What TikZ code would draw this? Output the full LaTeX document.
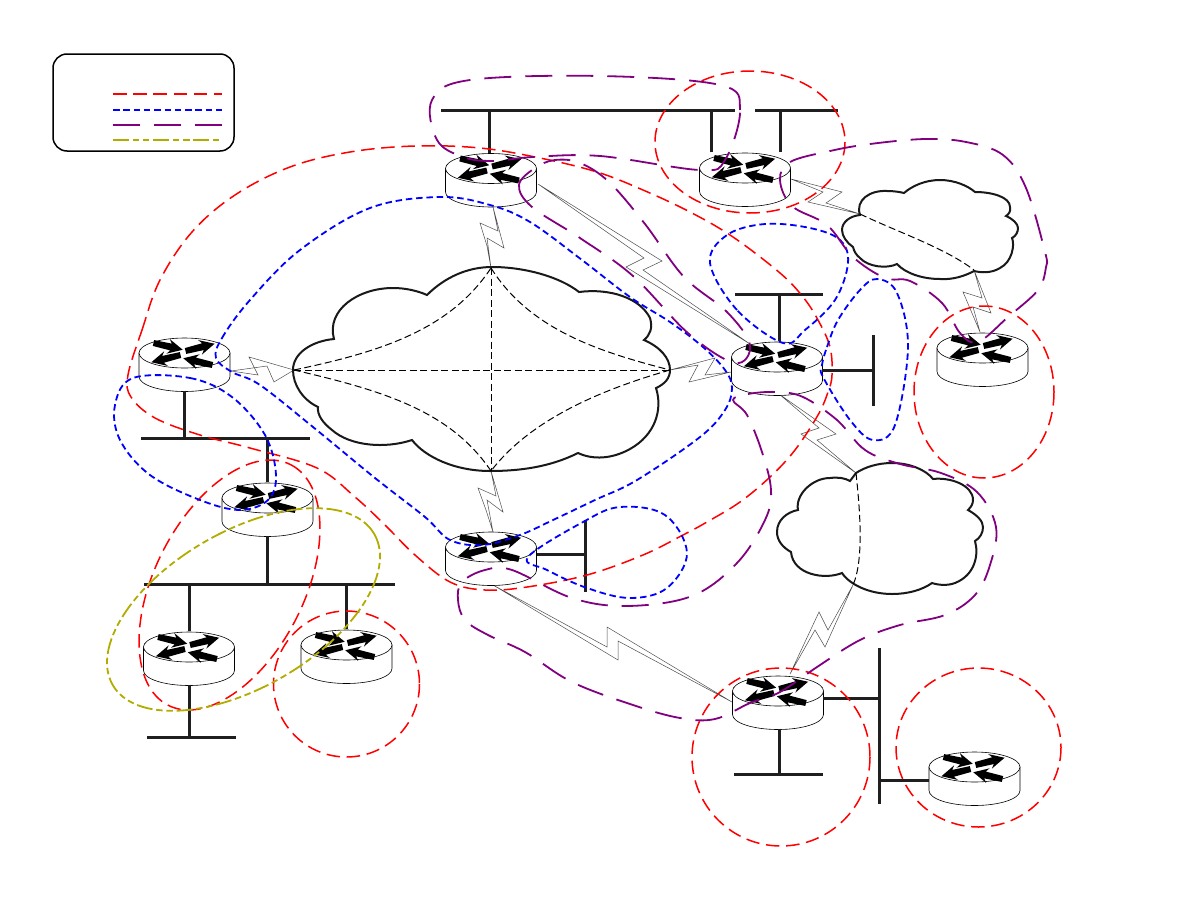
\documentclass[tikz,border=0pt]{standalone}
\definecolor{cred}{RGB}{255,0,0}
\definecolor{cblue}{RGB}{0,0,255}
\definecolor{cpurple}{RGB}{128,0,128}
\definecolor{colive}{RGB}{178,172,0}
\tikzset{
  x=1pt,y=-1pt,
  busline/.style={line width=3pt,color=black!88},
  cloudline/.style={line width=2pt,color=black!90,line join=miter},
  meshline/.style={line width=1pt,dash pattern=on 7pt off 3.5pt},
  zapline/.style={line width=0.5pt,color=black!70,line join=miter},
  redline/.style={line width=1.5pt,color=cred,dash pattern=on 13.5pt off 6.7pt},
  blueline/.style={line width=1.8pt,color=cblue,dash pattern=on 6.5pt off 3.8pt},
  purpleline/.style={line width=1.8pt,color=cpurple,dash pattern=on 27pt off 14pt},
  oliveline/.style={line width=1.8pt,color=colive,dash pattern=on 16pt off 3.7pt on 6.5pt off 3.7pt on 6.5pt off 3.7pt},
  routerbox/.style={inner sep=0pt,minimum width=91pt,minimum height=53pt,rectangle},
}
\newcommand{\routertip}[3]{%
  \fill[shift={(#1,#2)},rotate=#3] (0,3) -- (18,3.5) -- (15,7.5) -- (30,0) -- (15,-7.5) -- (18,-3.5) -- (0,-3) -- cycle;}
\newcommand{\routerat}[3]{%
  \node[routerbox] (#1) at (#2,#3+11) {};
  \begin{scope}[shift={(#2,#3)}]
    \draw[fill=white,line width=0.6pt] (-45.5,0) -- (-45.5,23.5) arc[start angle=180,end angle=360,x radius=45.5,y radius=-15] -- (45.5,0) -- cycle;
    \draw[fill=white,line width=0.6pt] (0,0) ellipse[x radius=45.5,y radius=15];
    \routertip{-31}{-10}{-13}
    \routertip{1}{-2}{14}
    \routertip{-4}{2}{194}
    \routertip{28}{12}{167}
  \end{scope}}
\begin{document}
\begin{tikzpicture}
\useasboundingbox (0,0) rectangle (1188,918);
% bus end points
\coordinate (b1a) at (441,110); \coordinate (b1b) at (735,110);
\coordinate (b2a) at (755,110); \coordinate (b2b) at (838,110);
\coordinate (b3a) at (735,294); \coordinate (b3b) at (823,294);
\coordinate (b4a) at (873,335); \coordinate (b4b) at (873,406);
\coordinate (b5a) at (141,438); \coordinate (b5b) at (310,438);
\coordinate (b6a) at (144,584); \coordinate (b6b) at (395,584);
\coordinate (b7a) at (147,737); \coordinate (b7b) at (236,737);
\coordinate (b8a) at (585,520); \coordinate (b8b) at (585,592);
\coordinate (b9a) at (879,648); \coordinate (b9b) at (879,804);
\coordinate (b10a) at (734,774); \coordinate (b10b) at (823,774);
% clouds
\coordinate (c1t) at (491,268); \coordinate (c1b) at (491,471);
\coordinate (c1l) at (294,370); \coordinate (c1r) at (670,370);
\coordinate (c2a) at (860,214); \coordinate (c2b) at (974,270);
\coordinate (c3a) at (856,473); \coordinate (c3b) at (853,585);
% links
\draw[zapline] (c1l) -- (274,382) -- (267,366) -- (231,371) -- (258,375) -- (249,357) -- cycle;
\draw[zapline] (c1r) -- (715,358) -- (705,375) -- (731,372) -- (689,382) -- (698,365) -- cycle;
\draw[zapline] (493,207) -- (504,248) -- (487,238) -- (c1t) -- (487,246) -- (480,223) -- (498,231) -- cycle;
\draw[zapline] (c1b) -- (503,512) -- (487,500) -- (493,532) -- (486,510) -- (478,488) -- (496,496) -- cycle;
\draw[zapline] (538,184) -- (662,261) -- (643,270) -- (750,344) -- (626,267) -- (644,258) -- cycle;
\draw[zapline] (791,179) -- (842,192) -- (826,203) -- (c2a) -- (808,202) -- (823,192) -- cycle;
\draw[zapline] (c2b) -- (991,313) -- (973,307) -- (980,332) -- (963,292) -- (982,298) -- cycle;
\draw[zapline] (779,394) -- (836,434) -- (817,440) -- (c3a) -- (801,434) -- (819,428) -- cycle;
\draw[zapline] (493,585) -- (607,647) -- (607,627) -- (732,702) -- (618,641) -- (618,660) -- cycle;
\draw[zapline] (c3b) -- (828,630) -- (819,612) -- (790,674) -- (815,630) -- (825,647) -- cycle;
% clouds outlines
\draw[cloudline] (334,339) .. controls (326,310) and (358,288) .. (393,288) .. controls (406,288) and (418,291) .. (427,295)
 .. controls (445,277) and (468,267) .. (492,267) .. controls (525,267) and (560,277) .. (579,292)
 .. controls (610,288) and (640,298) .. (650,318) .. controls (653,328) and (650,335) .. (644,340)
 .. controls (660,347) and (670,358) .. (670,370) .. controls (670,378) and (665,384) .. (656,388)
 .. controls (663,410) and (655,435) .. (630,449) .. controls (612,459) and (593,460) .. (578,453)
 .. controls (550,467) and (520,471) .. (490,471) .. controls (455,471) and (425,457) .. (412,440)
 .. controls (385,449) and (350,446) .. (332,430) .. controls (323,423) and (317,415) .. (318,407)
 .. controls (303,400) and (293,385) .. (293,370) .. controls (293,353) and (312,341) .. (334,339) -- cycle;
\draw[cloudline] (860,215) .. controls (855,200) and (870,190) .. (887,191) .. controls (894,191) and (900,192) .. (904,193)
 .. controls (912,186) and (925,180) .. (940,180) .. controls (955,180) and (968,186) .. (975,192)
 .. controls (992,192) and (1010,197) .. (1010,207) .. controls (1011,211) and (1009,214) .. (1006,216)
 .. controls (1013,219) and (1018,224) .. (1018,228) .. controls (1018,232) and (1016,236) .. (1012,238)
 .. controls (1015,245) and (1012,262) .. (1000,268) .. controls (992,273) and (982,273) .. (974,271)
 .. controls (965,276) and (952,280) .. (940,279) .. controls (922,279) and (905,273) .. (897,264)
 .. controls (887,269) and (868,267) .. (860,258) .. controls (856,255) and (854,251) .. (853,247)
 .. controls (847,243) and (842,236) .. (842,230) .. controls (842,222) and (850,216) .. (860,215) -- cycle;
\draw[cloudline] (856,473) .. controls (865,467) and (878,463) .. (892,463) .. controls (910,463) and (926,470) .. (933,479)
 .. controls (950,477) and (973,485) .. (973,500) .. controls (973,504) and (971,507) .. (968,510)
 .. controls (977,515) and (983,521) .. (983,527) .. controls (983,533) and (980,538) .. (975,541)
 .. controls (979,555) and (975,575) .. (955,583) .. controls (947,586) and (938,585) .. (932,583)
 .. controls (922,590) and (908,594) .. (892,594) .. controls (870,594) and (850,585) .. (842,573)
 .. controls (825,580) and (793,575) .. (791,552)
 .. controls (782,547) and (777,540) .. (777,532) .. controls (777,520) and (787,512) .. (798,510)
 .. controls (795,495) and (812,478) .. (830,478) .. controls (838,477) and (845,478) .. (850,481)
 -- (856,473) -- cycle;
% dashed mesh
\draw[meshline] (c1l) -- (c1r);
\draw[meshline] (c1t) -- (c1b);
\draw[meshline] (c1l) .. controls (380,352) and (450,330) .. (c1t);
\draw[meshline] (c1t) .. controls (530,330) and (600,352) .. (c1r);
\draw[meshline] (c1r) .. controls (600,390) and (530,420) .. (c1b);
\draw[meshline] (c1b) .. controls (450,410) and (380,390) .. (c1l);
\draw[meshline] (c2a) .. controls (900,233) and (945,248) .. (c2b);
\draw[meshline] (c3a) .. controls (860,510) and (864,560) .. (c3b);
% routers
\routerat{r1}{491}{168.5}
\routerat{r2}{745}{168}
\routerat{r3}{184.5}{353}
\routerat{r4}{777}{357}
\routerat{r5}{982.5}{348}
\routerat{r6}{267.5}{498}
\routerat{r7}{491}{547}
\routerat{r8}{189}{647}
\routerat{r9}{346.5}{645}
\routerat{r10}{778}{691}
\routerat{r11}{974.5}{767}
% buses
\draw[busline] (b1a) -- (b1b);
\draw[busline] (b2a) -- (b2b);
\draw[busline] (b3a) -- (b3b);
\draw[busline] (b4a) -- (b4b);
\draw[busline] (b5a) -- (b5b);
\draw[busline] (b6a) -- (b6b);
\draw[busline] (b7a) -- (b7b);
\draw[busline] (b8a) -- (b8b);
\draw[busline] (b9a) -- (b9b);
\draw[busline] (b10a) -- (b10b);
\draw[busline] (r1.north -| 489,0) -- (b1a -| 489,0);
\draw[busline] (r2.north -| 711,0) -- (b1a -| 711,0);
\draw[busline] (r2.north -| 780,0) -- (b2a -| 780,0);
\draw[busline] (r4.north -| 779,0) -- (b3a -| 779,0);
\draw[busline] (822,370) -- (b4a |- 0,370);
\draw[busline] (r3.south -| 184,0) -- (b5a -| 184,0);
\draw[busline] (r6.north) -- (b5a -| r6.north);
\draw[busline] (r6.south) -- (b6a -| r6.south);
\draw[busline] (r8.north) -- (b6a -| r8.north);
\draw[busline] (r9.north) -- (b6a -| r9.north);
\draw[busline] (r8.south) -- (b7a -| r8.south);
\draw[busline] (537,554) -- (b8a |- 0,554);
\draw[busline] (823,698) -- (b9a |- 0,698);
\draw[busline] (b9a |- 0,780) -- (r11.west |- 0,780);
\draw[busline] (r10.south -| 779,0) -- (b10a -| 779,0);
% legend
\node[draw,line width=1.5pt,rounded corners=14pt,minimum width=181pt,minimum height=97pt,inner sep=0pt] (legend) at (143.5,102.5) {};
\coordinate (la) at (113,94); \coordinate (lb) at (222,94);
\draw[redline] (la) -- (lb);
\draw[blueline] (113,110) -- (222,110);
\draw[purpleline] (113,125) -- (222,125);
\draw[oliveline] (113,140) -- (222,140);
% red scopes
\draw[redline] plot[smooth cycle,tension=0.6] coordinates {(128,375) (142,330) (160,280) (192,232) (235,195) (290,167) (350,152) (415,146) (480,148) (540,158) (597,172) (643,190) (690,212) (733,237) (780,273) (803,297) (818,320) (830,347) (832,375) (828,392) (818,415) (795,450) (770,477) (740,502) (707,522) (683,535) (643,555) (587,575) (527,587) (485,590) (450,582) (415,555) (385,525) (355,497) (317,468) (250,448) (200,435) (155,418) (131,397)};
\draw[redline] (750,142) ellipse[x radius=95,y radius=71];
\draw[redline] (984,392) ellipse[x radius=70,y radius=86];
\draw[redline] (781,757) ellipse[x radius=89,y radius=89];
\draw[redline] (978.5,747.5) ellipse[x radius=82.5,y radius=79.5];
\draw[redline] (346.5,684) ellipse[x radius=73,y radius=73];
\draw[redline,rotate around={63:(229.5,585)}] (229.5,585) ellipse[x radius=135,y radius=74.7];
% blue scopes
\draw[blueline] plot[smooth cycle,tension=0.6] coordinates {(216,358) (222,338) (250,300) (300,250) (370,208) (440,197) (490,205) (530,222) (582,260) (630,297) (670,322) (703,347) (725,370) (732,388) (725,410) (700,437) (637,480) (595,500) (553,520) (520,535) (483,545) (450,540) (425,517) (375,478) (313,427) (260,385) (232,372)};
\draw[blueline] plot[smooth cycle,tension=0.6] coordinates {(133,378) (190,378) (232,397) (265,435) (276,475) (268,500) (240,510) (200,500) (150,475) (120,440) (115,405)};
\draw[blueline] plot[smooth cycle,tension=0.6] coordinates {(783,343) (737,310) (710,263) (727,235) (765,224) (810,228) (840,240) (848,263) (835,300) (805,330)};
\draw[blueline] plot[smooth cycle,tension=0.6] coordinates {(822,365) (827,347) (838,320) (860,290) (877,279) (897,293) (908,347) (895,425) (873,440) (850,420) (823,377)};
\draw[blueline] plot[smooth cycle,tension=0.6] coordinates {(528,557) (583,522) (620,507) (665,515) (687,553) (667,588) (630,598) (587,588) (547,570)};
% purple scopes
\draw[purpleline] plot[smooth cycle,tension=0.6] coordinates {(725,160) (740,110) (720,85) (600,76) (470,80) (432,100) (437,140) (463,157) (493,161) (533,157) (600,156) (700,170)};
\draw[purpleline] plot[smooth cycle,tension=0.6] coordinates {(535,168) (519,185) (532,207) (580,238) (633,276) (689,334) (735,363) (750,345) (727,312) (684,277) (645,224) (609,182) (580,163) (555,160)};
\draw[purpleline] plot[smooth cycle,tension=0.6] coordinates {(780,180) (790,162) (830,151) (870,144) (925,139) (966,142) (1003,155) (1026,188) (1045,252) (1046,267) (1038,290) (1008,317) (978,342) (960,333) (942,303) (910,281) (885,278) (853,257) (827,225) (792,206)};
\draw[purpleline] plot[smooth cycle,tension=0.6] coordinates {(733,400) (748,394) (776,392) (803,397) (837,420) (865,450) (900,464) (941,473) (977,492) (996,527) (990,565) (975,595) (945,615) (900,625) (860,640) (820,665) (780,692) (750,703) (715,719) (680,718) (633,705) (572,682) (525,652) (488,635) (465,620) (458,600) (462,582) (485,570) (512,570) (572,598) (627,606) (692,596) (737,563) (765,520) (771,490) (762,452) (747,415)};
% olive scope
\draw[oliveline,rotate around={30:(243.5,609.5)}] (243.5,609.5) ellipse[x radius=151,y radius=78];
\end{tikzpicture}
\end{document}
